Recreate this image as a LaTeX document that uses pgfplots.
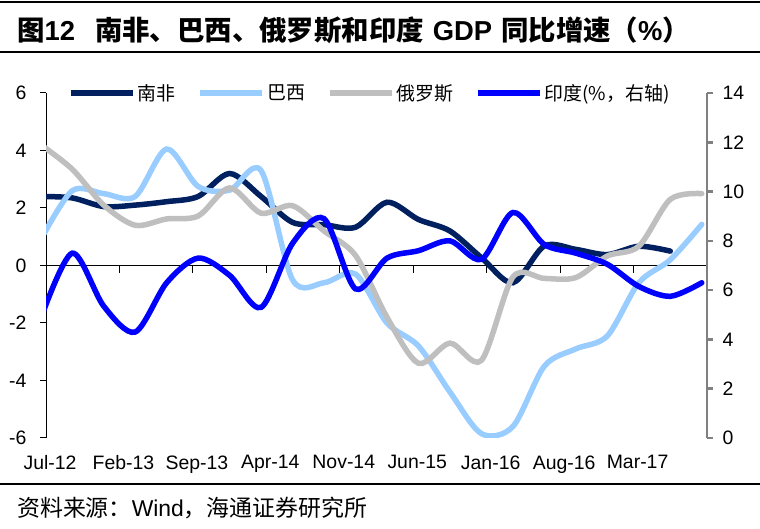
\documentclass[border=0pt]{standalone}
\usepackage{fontspec}
\setmainfont{Liberation Sans}
\newfontfamily\cjk{Noto Sans CJK SC}
\usepackage{pgfplots}
\pgfplotsset{compat=1.18}
\definecolor{sa}{HTML}{002060}
\definecolor{br}{HTML}{99CCFF}
\definecolor{ru}{HTML}{BFBFBF}
\definecolor{ind}{HTML}{0000FF}
\definecolor{rax}{HTML}{808080}
\begin{document}
\begin{tikzpicture}[x=1bp,y=1bp]
\path[use as bounding box] (0,0) rectangle (760,529);
\draw[black, line width=1.2bp] (0,527) -- (760,527);
\draw[black, line width=1.5bp] (0,477) -- (760,477);
\draw[black, line width=1.2bp] (0,45) -- (760,45);
\node[anchor=west, inner sep=0pt] at (17,499) {\fontsize{27.5}{28}\selectfont{\cjk\bfseries 图}{\bfseries 12}\hspace{20bp}{\cjk\bfseries 南非、巴西、俄罗斯和印度}\hspace{9bp}{\bfseries GDP}\hspace{9bp}{\cjk\bfseries 同比增速（}{\bfseries\%}{\cjk\bfseries ）}};
\node[anchor=west, inner sep=0pt] at (17,21) {\fontsize{23}{24}\selectfont{\cjk 资料来源：}Wind{\cjk ，海通证券研究所}};
\begin{axis}[
  at={(46bp,91bp)}, anchor=south west, scale only axis, width=661bp, height=345bp,
  xmin=0, xmax=63, ymin=-6, ymax=6,
  axis lines*=left,
  x axis line style={draw=none},
  y axis line style={black, line width=1bp},
  xtick={0,7,...,56},
  xticklabels={Jul-12,Feb-13,Sep-13,Apr-14,Nov-14,Jun-15,Jan-16,Aug-16,Mar-17},
  xtick style={draw=none},
  ytick={-6,-4,...,6},
  ytick style={black, line width=1bp},
  tick align=outside, major tick length=6bp,
  tick label style={font=\fontsize{19.5}{20}\selectfont},
  /pgf/number format/assume math mode=true,
  xticklabel style={yshift=-8bp, xshift=4bp},
  yticklabel style={xshift=-10bp},
  legend columns=4,
  legend style={draw=none, fill=none, at={(rel axis cs:0.49,1)}, anchor=center,
    font=\cjk\fontsize{19}{20}\selectfont, inner sep=0pt,
    /tikz/every even column/.append style={column sep=20bp}},
  legend image code/.code={\draw[line cap=butt] (0bp,0bp) -- (62bp,0bp);},
]
\addplot[black, line width=1bp, forget plot] coordinates {(0,0) (63,0)};
\addplot[black, line width=1.2bp, ycomb, forget plot] coordinates {(7,-0.25) (14,-0.25) (21,-0.25) (28,-0.25) (35,-0.25) (42,-0.25) (49,-0.25) (56,-0.25) (63,-0.25)};
\addplot[sa, line width=5.5bp, smooth, tension=0.5, line cap=round] coordinates {
(-0.5,2.4) (2.5,2.35) (5.5,2.05) (8.5,2.1) (11.5,2.22) (14.5,2.4) (17.5,3.2) (20.5,2.4) (23.5,1.5) (26.5,1.42) (29.5,1.33) (32.5,2.2) (35.5,1.6) (38.5,1.2) (41.5,0.27) (44.5,-0.6) (47.5,0.68) (50.5,0.56) (53.5,0.38) (56.5,0.67) (59.5,0.5)};
\addlegendentry{南非}
\addplot[br, line width=5.5bp, smooth, tension=0.5, line cap=round] coordinates {
(-0.5,0.9) (2.5,2.6) (5.5,2.5) (8.5,2.4) (11.5,4.05) (14.5,2.75) (17.5,2.62) (20.5,3.3) (23.5,-0.5) (26.5,-0.6) (29.5,-0.3) (32.5,-2.0) (35.5,-2.8) (38.5,-4.4) (41.5,-5.85) (44.5,-5.6) (47.5,-3.5) (50.5,-2.9) (53.5,-2.45) (56.5,-0.6) (59.5,0.2) (62.5,1.43)};
\addlegendentry{巴西}
\addplot[ru, line width=5.5bp, smooth, tension=0.5, line cap=round] coordinates {
(-0.5,4.2) (2.5,3.35) (5.5,2.1) (8.5,1.4) (11.5,1.62) (14.5,1.72) (17.5,2.7) (20.5,1.82) (23.5,2.08) (26.5,1.2) (29.5,0.35) (32.5,-1.8) (35.5,-3.4) (38.5,-2.7) (41.5,-3.3) (44.5,-0.4) (47.5,-0.45) (50.5,-0.42) (53.5,0.33) (56.5,0.67) (59.5,2.3) (62.5,2.5)};
\addlegendentry{俄罗斯}
\addlegendimage{ind, line width=5.5bp}
\addlegendentry{印度(\%，右轴)}
\end{axis}
\begin{axis}[
  at={(46bp,91bp)}, anchor=south west, scale only axis, width=661bp, height=345bp,
  xmin=0, xmax=63, ymin=0, ymax=14,
  axis x line=none, axis y line*=right,
  y axis line style={rax, line width=2.5bp},
  ytick={0,2,...,14}, ytick style={rax, line width=2.5bp},
  tick align=outside, major tick length=6bp,
  tick label style={font=\fontsize{19.5}{20}\selectfont},
  /pgf/number format/assume math mode=true,
  yticklabel style={xshift=6bp},
]
\addplot[ind, line width=5.5bp, smooth, tension=0.5, line cap=round] coordinates {
(-0.5,4.85) (2.5,7.5) (5.5,5.35) (8.5,4.3) (11.5,6.3) (14.5,7.3) (17.5,6.6) (20.5,5.3) (23.5,7.9) (26.5,8.9) (29.5,6.05) (32.5,7.3) (35.5,7.6) (38.5,8.0) (41.5,7.25) (44.5,9.15) (47.5,7.85) (50.5,7.5) (53.5,7.05) (56.5,6.15) (59.5,5.75) (62.5,6.3)};
\end{axis}
\end{tikzpicture}
\end{document}
